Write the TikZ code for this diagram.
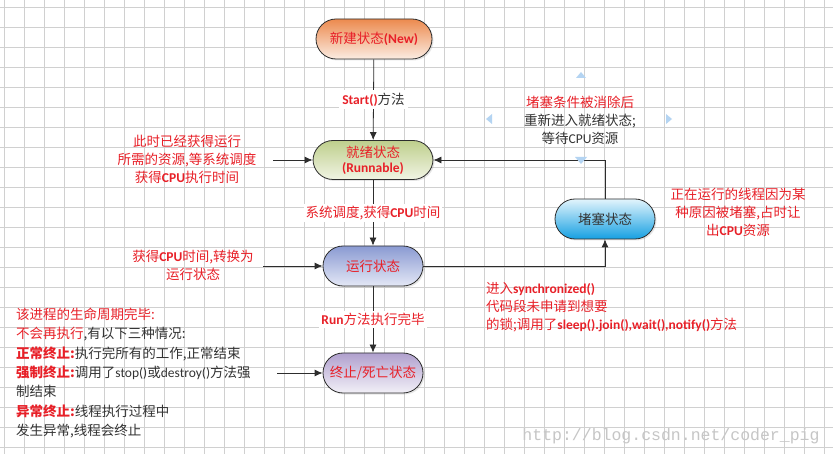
\documentclass[tikz,border=0pt]{standalone}
\usepackage{fontspec}
\setmainfont{Noto Sans CJK SC}
\newfontfamily\enf{Carlito}
\newfontfamily\wmf{Liberation Mono}
\usetikzlibrary{arrows.meta,shadows}

\definecolor{redtxt}{RGB}{232,32,40}
\definecolor{graytxt}{RGB}{51,51,51}
\definecolor{linec}{RGB}{45,45,45}
\definecolor{gridc}{RGB}{208,208,208}
\definecolor{handlec}{RGB}{180,212,242}
\newcommand\en[1]{{\enf\bfseries #1}}
\newcommand\enn[1]{{\enf #1}}

\tikzset{
 state/.style={draw=linec,line width=.8,rounded corners=20,minimum width=100,minimum height=40,
  inner sep=2,text=redtxt,align=center,
  drop shadow={opacity=.2,shadow xshift=1.5pt,shadow yshift=-1.5pt}},
 arr/.style={draw=linec,line width=.8,-{Latex[length=8,width=7]}},
 lbl/.style={text=redtxt,align=center,inner sep=1},
 handle/.style={fill=handlec}
}

\begin{document}
\begin{tikzpicture}[x=1pt,y=-1pt,font=\fontsize{13.5}{18}\selectfont]
\useasboundingbox (0,0) rectangle (833,454);
\fill[white] (0,0) rectangle (833,454);
% grid paper
\foreach \x in {4,24,...,824} \draw[gridc,line width=.7] (\x,0) -- (\x,454);
\foreach \y in {7,27,...,447} \draw[gridc,line width=.7] (0,\y) -- (833,\y);
\node[text=gray!45,font=\wmf\fontsize{16.5}{17}\selectfont] (wm) at (671,436) {http://blog.csdn.net/coder\_pig};

% states
\node[state,minimum width=116,top color={rgb,255:red,236;green,138;blue,78},bottom color={rgb,255:red,251;green,236;blue,226}] (new) at (374,39) {新建状态\en{(New)}};
\node[state,minimum width=120,minimum height=39,top color={rgb,255:red,190;green,206;blue,140},bottom color={rgb,255:red,241;green,245;blue,228}] (ready) at (373,160) {就绪状态\\[-3pt]\en{(Runnable)}};
\node[state,top color={rgb,255:red,138;green,154;blue,210},bottom color={rgb,255:red,228;green,232;blue,246}] (run) at (373,266) {运行状态};
\node[state,top color={rgb,255:red,176;green,160;blue,206},bottom color={rgb,255:red,242;green,240;blue,247}] (dead) at (373,373) {终止/死亡状态};
\node[state,text=graytxt,top color={rgb,255:red,226;green,244;blue,252},bottom color={rgb,255:red,22;green,160;blue,226}] (block) at (605,219) {堵塞状态};

% transitions
\draw[arr] (new) -- node[lbl,fill=white,inner sep=3]{\en{Start()}\textcolor{graytxt}{方法}} (ready);
\draw[arr] (ready) -- node[lbl,fill=white,inner sep=2]{系统调度,获得\en{CPU}时间} (run);
\draw[arr] (run) -- node[lbl,fill=white,inner sep=2]{\en{Run}方法执行完毕} (dead);
\draw[arr] (run.east) -| (block.south);
\draw[arr] (block.north) |- (ready.east);

% notes on the left
\node[lbl] (t1) at (187,159) {此时已经获得运行\\所需的资源,等系统调度\\获得\en{CPU}执行时间};
\coordinate (c1) at (273,160);
\draw[arr] (c1) -- (ready);
\node[lbl] (t2) at (193,265) {获得\en{CPU}时间,转换为\\运行状态};
\coordinate (c2) at (263,266);
\draw[arr] (c2) -- (run);
\node[lbl,text=graytxt,align=left,anchor=west,font=\fontsize{13.5}{19.3}\selectfont] (t3) at (15,373) {\textcolor{redtxt}{该进程的生命周期完毕:}\\
\textcolor{redtxt}{不会再执行},有以下三种情况:\\
\textcolor{redtxt}{\textbf{正常终止:}}执行完所有的工作,正常结束\\
\textcolor{redtxt}{\textbf{强制终止:}}调用了\enn{stop()}或\enn{destroy()}方法强\\
制结束\\
\textcolor{redtxt}{\textbf{异常终止:}}线程执行过程中\\
发生异常,线程会终止};
\coordinate (c3) at (277,373);
\draw[arr] (c3) -- (dead);

% notes on the right
\fill[handle] (576,78) -- (586,78) -- (581,72) -- cycle;
\fill[handle] (492,114) -- (492,124) -- (486,119) -- cycle;
\fill[handle] (666,114) -- (666,124) -- (672,119) -- cycle;
\fill[handle] (575,157) -- (587,157) -- (581,164) -- cycle;
\node[lbl] (t4) at (580,120) {堵塞条件被消除后\\\textcolor{graytxt}{重新进入就绪状态;}\\\textcolor{graytxt}{等待\enn{CPU}资源}};
\node[lbl] (t5) at (738,212) {正在运行的线程因为某\\种原因被堵塞,占时让\\出\en{CPU}资源};
\node[lbl,align=left,anchor=west] (t6) at (485,307) {进入\en{synchronized()}\\代码段未申请到想要\\的锁;调用了\en{sleep().join(),wait(),notify()}方法};
\end{tikzpicture}
\end{document}
